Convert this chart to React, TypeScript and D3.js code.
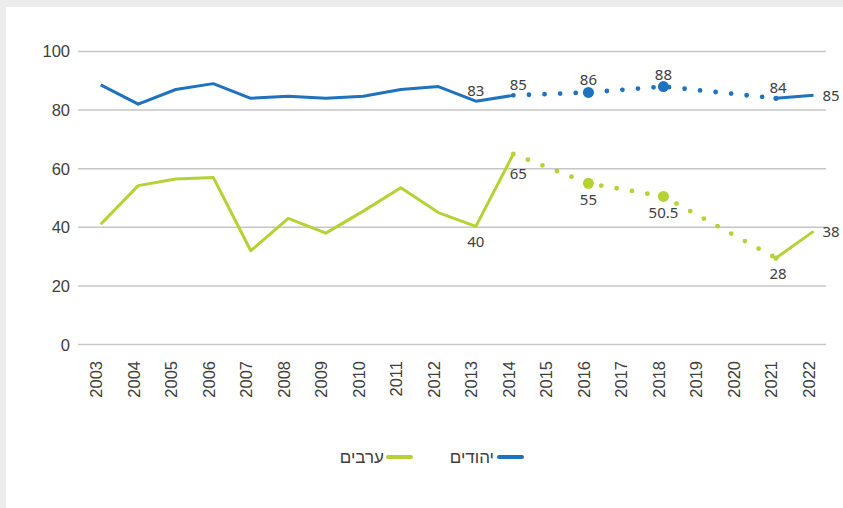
import * as d3 from "d3";

// years on the x axis
const years = [
  2003, 2004, 2005, 2006, 2007, 2008, 2009, 2010, 2011, 2012,
  2013, 2014, 2015, 2016, 2017, 2018, 2019, 2020, 2021, 2022,
];

// Jews (יהודים) – measured values
const jewsYears = [2003, 2004, 2005, 2006, 2007, 2008, 2009, 2010, 2011, 2012, 2013, 2014];
const jewsValues = [88.6, 82, 87, 89, 84, 84.7, 84, 84.7, 87, 88, 83, 85];
// dotted stretch (sparse survey years) and final solid segment
const jewsDotYears = [2014, 2016, 2018, 2021];
const jewsDotValues = [85, 86, 88, 84];
const jewsEndYears = [2021, 2022];
const jewsEndValues = [84, 85];

// Arabs (ערבים)
const arabsYears = [2003, 2004, 2005, 2006, 2007, 2008, 2009, 2010, 2011, 2012, 2013, 2014];
const arabsValues = [41, 54.2, 56.5, 57, 32, 43, 38, 45.5, 53.5, 45, 40.3, 65];
const arabsDotYears = [2014, 2016, 2018, 2021];
const arabsDotValues = [65, 55, 50.5, 29.5];
const arabsEndYears = [2021, 2022];
const arabsEndValues = [29.5, 38.6];

// labelled points (text as printed on the chart) and big markers
const labelYears = [2013, 2014, 2016, 2018, 2021, 2022];
const jewsLabels = ["83", "85", "86", "88", "84", "85"];
const arabsLabels = ["40", "65", "55", "50.5", "28", "38"];
const bigMarkerYears = [2016, 2018];

const yTicks = [0, 20, 40, 60, 80, 100];

const blue = "#1f72be";
const green = "#b4d234";
const textColor = "#404040";

const W = 843;
const H = 508;

type Pt = [number, number];
const zip = (xs: number[], ys: number[]): Pt[] => xs.map((x, i) => [x, ys[i]]);

export default function App() {
  const x = d3.scaleLinear().domain([2003, 2022]).range([100.7, 813.5]);
  const y = d3.scaleLinear().domain([0, 100]).range([344.5, 51.4]);
  const line = d3
    .line<Pt>()
    .x((d) => x(d[0]))
    .y((d) => y(d[1]));

  const series = [
    {
      color: blue,
      solid: zip(jewsYears, jewsValues),
      dots: zip(jewsDotYears, jewsDotValues),
      end: zip(jewsEndYears, jewsEndValues),
      labels: jewsLabels,
      labelBelow: false,
    },
    {
      color: green,
      solid: zip(arabsYears, arabsValues),
      dots: zip(arabsDotYears, arabsDotValues),
      end: zip(arabsEndYears, arabsEndValues),
      labels: arabsLabels,
      labelBelow: true,
    },
  ];

  const valueAt = (s: (typeof series)[number], yr: number) => {
    const all = [...s.solid, ...s.dots, ...s.end];
    const p = all.find((d) => d[0] === yr);
    return p ? p[1] : 0;
  };

  return (
    <svg
      width={W}
      height={H}
      style={{ position: "absolute", left: 0, top: 0 }}
      fontFamily="'Liberation Sans', Arial, sans-serif"
    >
      <rect width={W} height={H} fill="#ececec" />
      <rect x={6} y={7} width={W - 6} height={H - 7} fill="#fff" />

      {/* grid + y ticks */}
      {yTicks.map((t) => (
        <g key={t}>
          <line x1={78} x2={826} y1={y(t)} y2={y(t)} stroke="#c6c6c6" strokeWidth={1.5} />
          <text
            x={70}
            y={y(t)}
            textAnchor="end"
            dominantBaseline="central"
            fontSize={16.5}
            fill={textColor}
          >
            {t}
          </text>
        </g>
      ))}

      {/* x labels */}
      {years.map((yr) => (
        <text
          key={yr}
          transform={`translate(${x(yr) + 1.5},361) rotate(-90)`}
          textAnchor="end"
          fontSize={16.5}
          fill={textColor}
        >
          {yr}
        </text>
      ))}

      {/* lines */}
      {series.map((s, i) => (
        <g key={i}>
          <path d={line(s.solid) ?? ""} fill="none" stroke={s.color} strokeWidth={3} strokeLinejoin="round" />
          <path
            d={line(s.dots) ?? ""}
            fill="none"
            stroke={s.color}
            strokeWidth={4.8}
            strokeLinecap="round"
            strokeDasharray="0 15.6"
          />
          <path d={line(s.end) ?? ""} fill="none" stroke={s.color} strokeWidth={3} />
          <circle cx={x(s.end[0][0])} cy={y(s.end[0][1])} r={2.6} fill={s.color} />
          {bigMarkerYears.map((yr) => (
            <circle key={yr} cx={x(yr)} cy={y(valueAt(s, yr))} r={5.5} fill={s.color} />
          ))}
        </g>
      ))}

      {/* data labels */}
      {series.map((s, i) =>
        labelYears.map((yr, k) => {
          const v = valueAt(s, yr);
          const last = yr === 2022;
          const big = bigMarkerYears.includes(yr);
          let lx = x(yr) + (yr === 2014 ? 5 : yr === 2021 ? 2 : 0);
          let ly: number;
          if (last) {
            lx = x(yr) + 9;
            ly = y(v);
          } else if (s.labelBelow) {
            ly = y(v) + (big ? 16 : yr === 2014 ? 19 : 15);
          } else {
            ly = y(v) - (big ? 13 : 11);
          }
          return (
            <text
              key={`${i}-${yr}`}
              x={lx}
              y={ly}
              textAnchor={last ? "start" : "middle"}
              dominantBaseline="central"
              fontFamily="'Noto Sans', 'DejaVu Sans', sans-serif"
              fontSize={15}
              fill={textColor}
            >
              {s.labels[k]}
            </text>
          );
        })
      )}

      {/* legend (RTL: marker right of label) */}
      <line x1={499} x2={522} y1={457} y2={457} stroke={blue} strokeWidth={4} strokeLinecap="round" />
      <text x={494} y={457} textAnchor="end" dominantBaseline="central" fontSize={17} fill={textColor}>
        יהודים
      </text>
      <line x1={388} x2={411} y1={457} y2={457} stroke={green} strokeWidth={4} strokeLinecap="round" />
      <text x={384} y={457} textAnchor="end" dominantBaseline="central" fontSize={17} fill={textColor}>
        ערבים
      </text>
    </svg>
  );
}
